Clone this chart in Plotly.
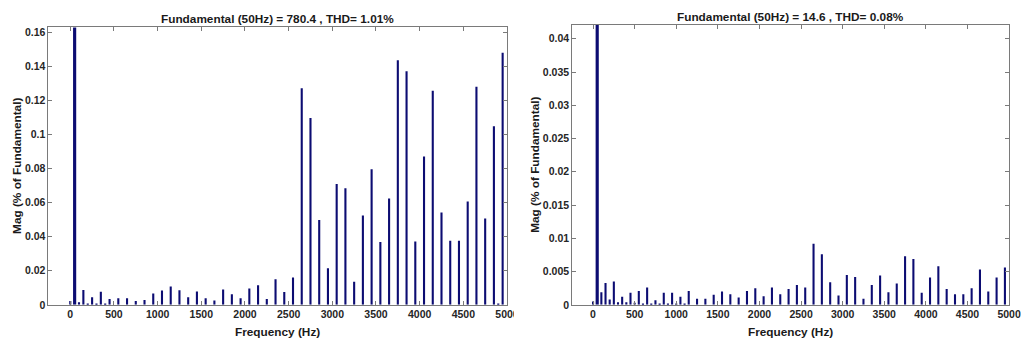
import plotly.graph_objects as go

# ---------------- data ----------------
left_title = "Fundamental (50Hz) = 780.4 , THD= 1.01%"
right_title = "Fundamental (50Hz) = 14.6 , THD= 0.08%"
x_label = "Frequency (Hz)"
y_label = "Mag (% of Fundamental)"
fundamental_freq = 50

left_freq = [0, 50, 100, 150, 200, 250, 300, 350, 400, 450, 550, 650, 750, 850, 950,
             1050, 1150, 1250, 1350, 1450, 1550, 1650, 1750, 1850, 1950,
             2050, 2150, 2250, 2350, 2450, 2550, 2650, 2750, 2850, 2950,
             3050, 3150, 3250, 3350, 3450, 3550, 3650, 3750, 3850, 3950,
             4050, 4150, 4250, 4350, 4450, 4550, 4650, 4750, 4850, 4900, 4950]
left_mag = [0.0023, 100, 0.0015, 0.0087, 0.0006, 0.0044, 0.0005, 0.0077, 0.0005, 0.0034,
            0.0039, 0.0038, 0.0022, 0.0029, 0.0067,
            0.0084, 0.0107, 0.0085, 0.0044, 0.0079, 0.0038, 0.0025, 0.0090, 0.0062, 0.0038,
            0.0096, 0.0115, 0.0035, 0.0150, 0.0076, 0.0161, 0.1270, 0.1095, 0.0497, 0.0215,
            0.0709, 0.0684, 0.0135, 0.0524, 0.0795, 0.0368, 0.0623, 0.1435, 0.1370, 0.0371,
            0.0870, 0.1256, 0.0542, 0.0376, 0.0376, 0.0606, 0.1279, 0.0506, 0.1047, 0.0005, 0.1479]

right_freq = [0, 50, 100, 150, 200, 250, 300, 350, 400, 450, 500, 550, 600, 650, 700,
              750, 800, 850, 900, 950, 1000, 1050, 1100, 1150, 1250, 1350, 1450, 1550,
              1650, 1750, 1850, 1950, 2050, 2150, 2250, 2350, 2450, 2550, 2650, 2750,
              2850, 2950, 3050, 3150, 3250, 3350, 3450, 3550, 3650, 3750, 3850, 3950,
              4050, 4150, 4250, 4350, 4450, 4550, 4650, 4750, 4850, 4950]
right_mag = [0.0005, 100, 0.0019, 0.0033, 0.0008, 0.0035, 0.0004, 0.0012, 0.0004, 0.0018,
             0.0003, 0.0021, 0.0002, 0.0026, 0.0002, 0.0007, 0.0002, 0.0018, 0.0002, 0.0018,
             0.0002, 0.0012, 0.0002, 0.0021, 0.0009, 0.0009, 0.0015, 0.0020,
             0.0016, 0.0011, 0.0021, 0.0025, 0.0013, 0.0026, 0.0016, 0.0024, 0.0030, 0.0026,
             0.0092, 0.0076, 0.0034, 0.0014, 0.0045, 0.0042, 0.0009, 0.0030, 0.0044, 0.0019,
             0.0032, 0.0073, 0.0069, 0.0018, 0.0041, 0.0058, 0.0024, 0.0016, 0.0016, 0.0025,
             0.0053, 0.0020, 0.0041, 0.0056]

x_ticks = [0, 500, 1000, 1500, 2000, 2500, 3000, 3500, 4000, 4500, 5000]
left_yticks = [0, 0.02, 0.04, 0.06, 0.08, 0.1, 0.12, 0.14, 0.16]
left_yticktext = ["0", "0.02", "0.04", "0.06", "0.08", "0.1", "0.12", "0.14", "0.16"]
right_yticks = [0, 0.005, 0.01, 0.015, 0.02, 0.025, 0.03, 0.035, 0.04]
right_yticktext = ["0", "0.005", "0.01", "0.015", "0.02", "0.025", "0.03", "0.035", "0.04"]

# ---------------- style ----------------
W, H = 1028, 347
BAR = "#0c0c72"
AX = "#7a7a7a"
FONT = "Liberation Sans"


def px_x(p):
    return p / W


def px_y(p):
    return 1 - p / H


def widths(freqs, normal, fund):
    return [fund if f == fundamental_freq else normal for f in freqs]


fig = go.Figure()
fig.add_trace(go.Bar(x=left_freq, y=left_mag, width=widths(left_freq, 24, 36),
                     marker=dict(color=BAR, line=dict(width=0)),
                     xaxis="x", yaxis="y", showlegend=False))
fig.add_trace(go.Bar(x=right_freq, y=right_mag, width=widths(right_freq, 25, 38),
                     marker=dict(color=BAR, line=dict(width=0)),
                     xaxis="x2", yaxis="y2", showlegend=False))

tickfont = dict(family=FONT, size=10.5, color="#262626", weight="bold")
common_x = dict(range=[-250, 5000], tickvals=x_ticks, ticks="inside", ticklen=4, tickcolor=AX,
                showline=True, linecolor=AX, linewidth=1, mirror="ticks", showgrid=False,
                zeroline=False, tickfont=tickfont, fixedrange=True)
common_y = dict(ticks="inside", ticklen=4, tickcolor=AX, showline=True, linecolor=AX, linewidth=1,
                mirror="ticks", showgrid=False, zeroline=False, tickfont=tickfont, fixedrange=True)

L0, L1 = 49, 513
R0, R1 = 579, 1021
B = 310

fig.update_layout(
    width=W, height=H,
    margin=dict(l=0, r=0, t=0, b=0),
    paper_bgcolor="white", plot_bgcolor="white",
    barmode="overlay",
    xaxis=dict(domain=[px_x(L0), px_x(L1)], anchor="y", **common_x),
    yaxis=dict(domain=[px_y(B), px_y(26)], anchor="x", range=[0, 0.1627],
               tickvals=left_yticks, ticktext=left_yticktext, **common_y),
    xaxis2=dict(domain=[px_x(R0), px_x(R1)], anchor="y2", **common_x),
    yaxis2=dict(domain=[px_y(B), px_y(23.3)], anchor="x2", range=[0, 0.0421],
                tickvals=right_yticks, ticktext=right_yticktext, **common_y),
)

tfont = dict(family=FONT, size=11.8, color="#1a1a1a", weight="bold")
ann = [
    dict(text=left_title, x=px_x((L0 + L1) / 2), y=px_y(17.5), font=tfont),
    dict(text=right_title, x=px_x((R0 + R1) / 2), y=px_y(15), font=tfont),
    dict(text=x_label, x=px_x((L0 + L1) / 2), y=px_y(338), font=tfont),
    dict(text=x_label, x=px_x((R0 + R1) / 2), y=px_y(338), font=tfont),
    dict(text=y_label, x=px_x(17), y=px_y(168), font=tfont, textangle=-90),
    dict(text=y_label, x=px_x(541), y=px_y(167), font=tfont, textangle=-90),
]
for a in ann:
    fig.add_annotation(xref="paper", yref="paper", showarrow=False,
                       xanchor="center", yanchor="middle", **a)

# left panel image is cropped at its right edge (cuts its last tick label)
fig.add_shape(type="rect", xref="paper", yref="paper", layer="above",
              x0=px_x(520), x1=px_x(535), y0=px_y(330), y1=px_y(313),
              fillcolor="white", line=dict(width=0))

fig.write_html("out.html")
